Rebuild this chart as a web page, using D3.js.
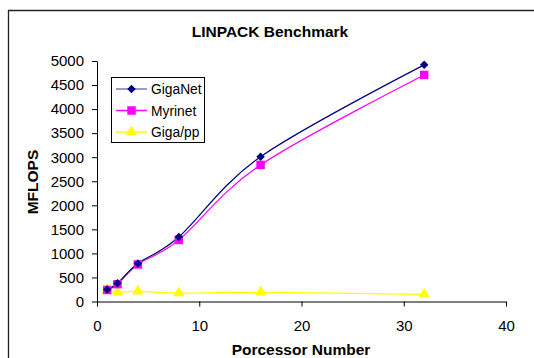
<!DOCTYPE html>
<html>
<head>
<meta charset="utf-8">
<script src="https://cdn.jsdelivr.net/npm/d3@7"></script>
<style>
  html, body { margin: 0; padding: 0; background: #fff; }
  svg { display: block; font-family: "Liberation Sans", Arial, sans-serif; }
</style>
</head>
<body>
<svg id="chart" width="534" height="358"></svg>
<script>
// Processor counts and measured MFLOPS per interconnect
const processors = [1, 2, 4, 8, 16, 32];
const gigaNet = [250, 380, 790, 1340, 3010, 4920];
const myrinet = [240, 360, 770, 1280, 2840, 4710];
const gigaPP  = [250, 190, 215, 175, 190, 150];
const seriesNames = ["GigaNet", "Myrinet", "Giga/pp"];
const xTicks = [0, 10, 20, 30, 40];
const yTicks = [0, 500, 1000, 1500, 2000, 2500, 3000, 3500, 4000, 4500, 5000];

const svg = d3.select("#chart");

// outer frame of the chart
svg.append("path")
  .attr("d", "M8.5,358 V10.5 H534")
  .attr("fill", "none").attr("stroke", "#222").attr("stroke-width", 1.3);

const x = d3.scaleLinear().domain([0, 40]).range([97, 506]);
const y = d3.scaleLinear().domain([0, 5000]).range([301.5, 61]);

// axes
const xAxis = svg.append("g").attr("transform", "translate(0,301.5)")
  .call(d3.axisBottom(x).tickValues(xTicks).tickFormat(d3.format("d"))
    .tickSize(5).tickSizeOuter(0).tickPadding(14));
const yAxis = svg.append("g").attr("transform", "translate(97,0)")
  .call(d3.axisLeft(y).tickValues(yTicks).tickFormat(d3.format("d"))
    .tickSize(5).tickSizeOuter(0).tickPadding(8));
[xAxis, yAxis].forEach(g => {
  g.selectAll("path, line").attr("stroke", "#000");
  g.selectAll("text").attr("font-size", 15).attr("fill", "#000")
    .attr("font-family", "Liberation Sans, Arial, sans-serif");
});

// titles
svg.append("text").attr("x", 270).attr("y", 37).attr("text-anchor", "middle")
  .attr("font-size", 15.5).attr("font-weight", "bold").text("LINPACK Benchmark");
svg.append("text").attr("x", 301).attr("y", 355).attr("text-anchor", "middle")
  .attr("font-size", 15.5).attr("font-weight", "bold").text("Porcessor Number");
svg.append("text").attr("transform", "translate(38,182) rotate(-90)").attr("text-anchor", "middle")
  .attr("font-size", 15.5).attr("font-weight", "bold").text("MFLOPS");

// diamond drawn as a square turned on its corner
const diamond = {
  draw(ctx, size) {
    const r = Math.sqrt(size) / 2 * Math.SQRT2;
    ctx.moveTo(0, -r); ctx.lineTo(r, 0); ctx.lineTo(0, r); ctx.lineTo(-r, 0); ctx.closePath();
  }
};

const series = [
  { name: seriesNames[0], values: gigaNet, color: "#000080", shape: diamond, size: 36, legendLine: "#7777bb" },
  { name: seriesNames[1], values: myrinet, color: "#ff00ff", shape: d3.symbolSquare, size: 72, legendLine: "#ff00ff" },
  { name: seriesNames[2], values: gigaPP,  color: "#ffff00", shape: d3.symbolTriangle, size: 55, legendLine: "#ffff00" }
];

const line = d3.line()
  .x(d => x(d[0])).y(d => y(d[1]))
  .curve(d3.curveCatmullRom.alpha(0));

// draw Giga/pp first so the upper series sit on top
[2, 1, 0].forEach(i => {
  const s = series[i];
  const pts = processors.map((p, k) => [p, s.values[k]]);
  svg.append("path").datum(pts).attr("d", line)
    .attr("fill", "none").attr("stroke", s.color).attr("stroke-width", 1.2);
});
[2, 1, 0].forEach(i => {
  const s = series[i];
  svg.append("g").selectAll("path").data(processors.map((p, k) => [p, s.values[k]]))
    .join("path")
    .attr("transform", d => `translate(${x(d[0])},${y(d[1])})`)
    .attr("d", d3.symbol().type(s.shape).size(s.size))
    .attr("fill", s.color);
});

// legend
const lg = svg.append("g");
lg.append("rect").attr("x", 111.5).attr("y", 77.5).attr("width", 93).attr("height", 65)
  .attr("fill", "#fff").attr("stroke", "#000").attr("stroke-width", 1);
series.forEach((s, i) => {
  const cy = 89 + i * 21.5;
  lg.append("line").attr("x1", 116).attr("x2", 147).attr("y1", cy).attr("y2", cy)
    .attr("stroke", s.legendLine).attr("stroke-width", 1.5);
  lg.append("path").attr("transform", `translate(131.5,${cy})`)
    .attr("d", d3.symbol().type(s.shape).size(s.size)).attr("fill", s.color);
  lg.append("text").attr("x", 151).attr("y", cy + 5).attr("font-size", 13.8).text(s.name);
});
</script>
</body>
</html>
